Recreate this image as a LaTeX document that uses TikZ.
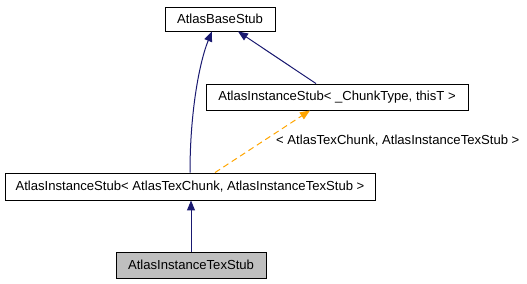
\documentclass[tikz,border=0pt]{standalone}
\usepackage{fontspec}
\setmainfont{Liberation Sans}
\usetikzlibrary{arrows.meta, positioning, calc}
\definecolor{navyedge}{HTML}{191970}
\definecolor{tmpledge}{HTML}{FFA500}
\definecolor{classfill}{HTML}{BFBFBF}

\begin{document}
\begin{tikzpicture}[
  x=1bp, y=-1bp,
  font=\fontsize{13.1bp}{15bp}\selectfont,
  classe/.style={draw=black, line width=0.9bp, inner sep=0pt, align=center},
  eredita/.style={draw=navyedge, line width=1bp, -{Triangle[length=10bp,width=8bp]}},
  modello/.style={draw=tmpledge, line width=1bp, dashed, dash pattern=on 6bp off 4bp,
                  -{Triangle[length=10bp,width=8bp]}},
  didasc/.style={inner sep=0pt}
]
\useasboundingbox (0,0) rectangle (527,283);

\node[classe, minimum width=110bp, minimum height=24bp] (base) at (220,19) {AtlasBaseStub};
\node[classe, minimum width=262bp, minimum height=26bp] (tmpl) at (337,97)
  {AtlasInstanceStub< \_ChunkType, thisT >};
\node[classe, minimum width=370bp, minimum height=27bp] (inst) at (190,186.5)
  {AtlasInstanceStub< AtlasTexChunk, AtlasInstanceTexStub >};
\node[classe, fill=classfill, minimum width=150bp, minimum height=26bp] (tex) at (191,265)
  {AtlasInstanceTexStub};

% ereditarieta
\draw[eredita] (tex.north) -- (tex.north |- inst.south);
\draw[eredita] (inst.north) .. controls +(0,-63) and +(-12,29) .. ([xshift=-8bp]base.south);
\draw[eredita] ([xshift=-21bp]tmpl.north) -- ([xshift=18bp]base.south);

% istanza del modello
\draw[modello] ([xshift=25bp]inst.north) -- ([xshift=-27bp]tmpl.south);
\node[didasc, anchor=west] (arg) at (276,141) {< AtlasTexChunk, AtlasInstanceTexStub >};

\end{tikzpicture}
\end{document}
